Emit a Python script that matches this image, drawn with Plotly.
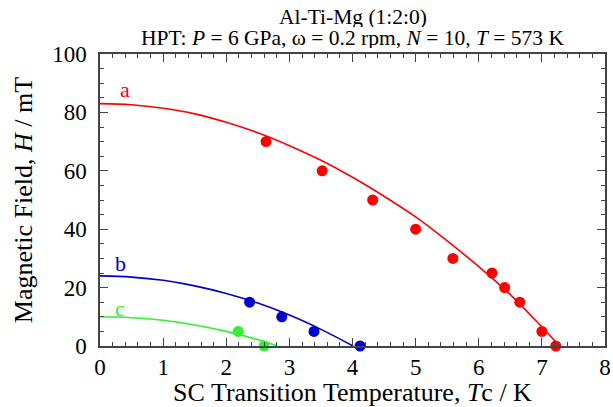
import plotly.graph_objects as go

# Measured critical fields (dots): Tc in K, H in mT
a_tc = [2.63, 3.52, 4.32, 5.00, 5.59, 6.21, 6.41, 6.65, 7.00, 7.22]
a_h = [70, 60, 50, 40, 30, 25, 20, 15, 5, 0]
b_tc = [2.37, 2.88, 3.39, 4.12]
b_h = [15, 10, 5, 0]
c_tc = [2.19, 2.60]
c_h = [5, 0]

# Fitted curves (solid lines), sampled values
a_fit_t = [0, 0.5, 1.0, 1.5, 2.0, 2.5, 3.0, 3.5, 4.0, 4.5, 5.0, 5.5, 6.0, 6.5, 7.0, 7.28]
a_fit_h = [83.0, 82.6, 81.4, 79.5, 76.6, 73.0, 68.6, 63.6, 57.8, 51.3, 44.2, 36.0, 27.2, 17.6, 6.5, 0]
b_fit_t = [0, 0.5, 1.0, 1.5, 2.0, 2.5, 3.0, 3.5, 4.01]
b_fit_h = [24.0, 23.6, 22.5, 20.6, 18.0, 14.7, 10.6, 5.7, 0]
c_fit_t = [0, 0.5, 1.0, 1.5, 2.0, 2.5, 2.81]
c_fit_h = [10.0, 9.7, 8.8, 7.2, 5.0, 2.2, 0]

title_lines = [
    "Al-Ti-Mg (1:2:0)",
    "HPT: <i>P</i> = 6 GPa, ω = 0.2 rpm, <i>N</i> = 10, <i>T</i> = 573 K",
]

RED = "#ff0000"
BLUE = "#0000cc"
GREEN = "#33ee33"
FONT = "Liberation Serif"

fig = go.Figure()

for t, h, col in [(a_fit_t, a_fit_h, RED), (b_fit_t, b_fit_h, BLUE), (c_fit_t, c_fit_h, GREEN)]:
    fig.add_trace(go.Scatter(x=t, y=h, mode="lines", line=dict(color=col, width=1.6, shape="spline"),
                             showlegend=False, hoverinfo="skip"))

for t, h, col in [(a_tc, a_h, RED), (b_tc, b_h, BLUE), (c_tc, c_h, GREEN)]:
    fig.add_trace(go.Scatter(x=t, y=h, mode="markers", marker=dict(color=col, size=11),
                             showlegend=False, cliponaxis=False))

for txt, x, y, col in [("a", 0.39, 87.7, RED), ("b", 0.33, 28.3, BLUE), ("c", 0.32, 12.9, GREEN)]:
    fig.add_annotation(x=x, y=y, text=txt, showarrow=False, font=dict(family=FONT, size=22, color=col))

# two-line heading above the plot, set with tight leading
for line, shift in zip(title_lines, [25, 4]):
    fig.add_annotation(
        x=0.5, y=1, xref="paper", yref="paper", yanchor="bottom", yshift=shift, showarrow=False,
        text=line, font=dict(family=FONT, size=21.5, color="black"),
        height=21, valign="middle",
    )

axis_common = dict(
    showline=True, linecolor="#444", linewidth=1.5, mirror="ticks",
    ticks="inside", ticklen=8, tickwidth=1.2, tickcolor="#444",
    showgrid=False, zeroline=False, automargin=False,
    tickfont=dict(family=FONT, size=23, color="black"),
)

fig.update_xaxes(
    range=[0, 8], dtick=1,
    minor=dict(dtick=0.2, ticks="inside", ticklen=4, tickwidth=1, tickcolor="#444"),
    title=dict(text="SC Transition Temperature, <i>T</i>c / K", font=dict(family=FONT, size=26, color="black"), standoff=2),
    **axis_common,
)
fig.update_yaxes(
    range=[0, 100], dtick=20, ticklabelstandoff=7,
    minor=dict(dtick=5, ticks="inside", ticklen=4, tickwidth=1, tickcolor="#444"),
    title=dict(text="Magnetic Field, <i>H</i> / mT", font=dict(family=FONT, size=26, color="black"), standoff=12),
    **axis_common,
)

fig.update_layout(
    width=613, height=407,
    margin=dict(l=100, r=8, t=54, b=61),
    paper_bgcolor="white", plot_bgcolor="white",
    font=dict(family=FONT),
)

fig.write_html("out.html")
